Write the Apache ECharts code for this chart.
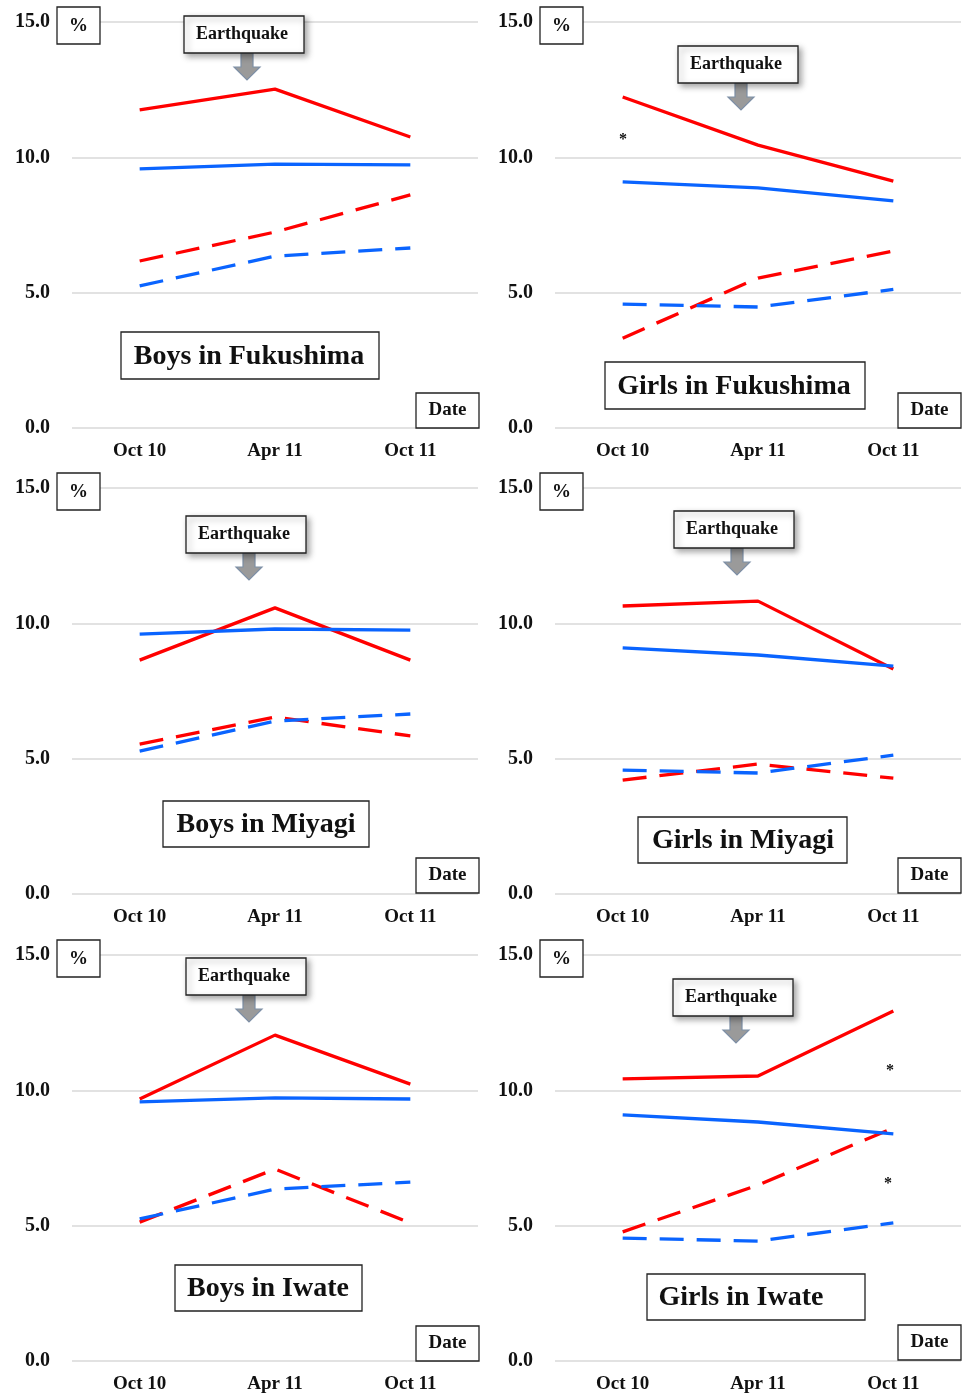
<!DOCTYPE html>
<html><head><meta charset="utf-8">
<script src="https://cdn.jsdelivr.net/npm/echarts@6/dist/echarts.min.js"></script>
<style>html,body{margin:0;padding:0;background:#fff}#c{width:968px;height:1394px}</style>
</head><body><div id="c"></div>
<script>
var categories = ['Oct 10', 'Apr 11', 'Oct 11'];
var yTicks = [0, 5, 10, 15];
var panelTitles = ['Boys in Fukushima', 'Girls in Fukushima', 'Boys in Miyagi', 'Girls in Miyagi', 'Boys in Iwate', 'Girls in Iwate'];

// series per panel: red solid, blue solid, red dashed, blue dashed
var boysFukushimaRedSolid = [11.75, 12.52, 10.75];
var boysFukushimaBlueSolid = [9.57, 9.75, 9.72];
var boysFukushimaRedDashed = [6.17, 7.24, 8.61];
var boysFukushimaBlueDashed = [5.25, 6.35, 6.65];

var girlsFukushimaRedSolid = [12.23, 10.45, 9.12];
var girlsFukushimaBlueSolid = [9.09, 8.87, 8.39];
var girlsFukushimaRedDashed = [3.32, 5.54, 6.54];
var girlsFukushimaBlueDashed = [4.58, 4.47, 5.12];

var boysMiyagiRedSolid = [8.64, 10.57, 8.64];
var boysMiyagiBlueSolid = [9.6, 9.79, 9.75];
var boysMiyagiRedDashed = [5.54, 6.54, 5.84];
var boysMiyagiBlueDashed = [5.28, 6.39, 6.65];

var girlsMiyagiRedSolid = [10.64, 10.82, 8.31];
var girlsMiyagiBlueSolid = [9.09, 8.83, 8.42];
var girlsMiyagiRedDashed = [4.21, 4.8, 4.28];
var girlsMiyagiBlueDashed = [4.58, 4.47, 5.13];

var boysIwateRedSolid = [9.68, 12.04, 10.23];
var boysIwateBlueSolid = [9.57, 9.72, 9.68];
var boysIwateRedDashed = [5.13, 7.09, 5.1];
var boysIwateBlueDashed = [5.25, 6.35, 6.61];

var girlsIwateRedSolid = [10.42, 10.53, 12.93];
var girlsIwateBlueSolid = [9.09, 8.83, 8.39];
var girlsIwateRedDashed = [4.77, 6.5, 8.61];
var girlsIwateBlueDashed = [4.54, 4.43, 5.1];

var panelData = [
  [boysFukushimaRedSolid, boysFukushimaBlueSolid, boysFukushimaRedDashed, boysFukushimaBlueDashed],
  [girlsFukushimaRedSolid, girlsFukushimaBlueSolid, girlsFukushimaRedDashed, girlsFukushimaBlueDashed],
  [boysMiyagiRedSolid, boysMiyagiBlueSolid, boysMiyagiRedDashed, boysMiyagiBlueDashed],
  [girlsMiyagiRedSolid, girlsMiyagiBlueSolid, girlsMiyagiRedDashed, girlsMiyagiBlueDashed],
  [boysIwateRedSolid, boysIwateBlueSolid, boysIwateRedDashed, boysIwateBlueDashed],
  [girlsIwateRedSolid, girlsIwateBlueSolid, girlsIwateRedDashed, girlsIwateBlueDashed]
];

var FONT = '"Liberation Serif", "Times New Roman", serif';
var RED = '#ff0000', BLUE = '#0a64ff';
var lefts = [72, 555];
var tops = [22, 488, 955];
var GW = 406, GH = 406;

// layout of annotation boxes per panel (pixels): x, y, w, h, text centre x
var quakeBox = [[184, 16], [678, 46], [186, 516], [674, 511], [186, 958], [673, 979]];
var titleBox = [[121, 332, 258, 47, 249], [605, 362, 260, 47, 734], [163, 801, 206, 46, 266], [638, 817, 209, 46, 743], [175, 1265, 187, 46, 268], [647, 1274, 218, 46, 741]];
var dateBox = [[416, 393], [898, 393], [416, 858], [898, 858], [416, 1326], [898, 1325]];
var stars = [[623, 137], [890, 1068], [888, 1181]];

var grids = [], xAxes = [], yAxes = [], series = [], graphics = [];
for (var i = 0; i < 6; i++) {
  var col = i % 2, row = Math.floor(i / 2);
  grids.push({ left: lefts[col], top: tops[row], width: GW, height: GH, containLabel: false });
  xAxes.push({
    type: 'category', gridIndex: i, data: categories, boundaryGap: true,
    axisLine: { show: false }, axisTick: { show: false },
    axisLabel: { fontFamily: FONT, fontWeight: 'bold', fontSize: 19, color: '#111', margin: 14 }
  });
  yAxes.push({
    type: 'value', gridIndex: i, min: yTicks[0], max: yTicks[yTicks.length - 1], interval: 5,
    axisLine: { show: false }, axisTick: { show: false },
    splitLine: { lineStyle: { color: '#d9d9d9', width: 1.5 } },
    axisLabel: { fontFamily: FONT, fontWeight: 'bold', fontSize: 20, color: '#111', margin: 22,
      padding: [3, 0, 0, 0],
      formatter: function (v) { return v.toFixed(1); } }
  });
  var styles = [
    { color: RED, type: 'solid' }, { color: BLUE, type: 'solid' },
    { color: RED, type: [24, 13] }, { color: BLUE, type: [24, 13] }
  ];
  for (var s = 0; s < 4; s++) {
    series.push({
      type: 'line', xAxisIndex: i, yAxisIndex: i, data: panelData[i][s],
      symbol: 'none', smooth: false, z: s < 2 ? 3 : 2,
      lineStyle: { color: styles[s].color, width: 3.3, type: styles[s].type },
      silent: true
    });
  }
  // % box
  var px = lefts[col] - 15, py = tops[row] - 15;
  graphics.push({ type: 'rect', shape: { x: px, y: py, width: 43, height: 37 },
    style: { fill: '#fff', stroke: '#222', lineWidth: 1.3 }, z: 10 });
  graphics.push({ type: 'text', x: px + 21.5, y: py + 19,
    style: { text: '%', font: 'bold 19px ' + FONT, fill: '#111', align: 'center', verticalAlign: 'middle' }, z: 11 });
  // Earthquake box + arrow
  var qx = quakeBox[i][0], qy = quakeBox[i][1];
  var ax = qx + 63;
  graphics.push({ type: 'polygon',
    shape: { points: [[ax - 6, qy + 37], [ax + 6, qy + 37], [ax + 6, qy + 51], [ax + 13, qy + 51], [ax, qy + 64], [ax - 13, qy + 51], [ax - 6, qy + 51]] },
    style: { fill: '#9a9a9a', stroke: '#7d8fa6', lineWidth: 1.2 }, z: 9 });
  graphics.push({ type: 'rect', shape: { x: qx, y: qy, width: 120, height: 37 },
    style: { fill: '#fff', stroke: '#222', lineWidth: 1.3, shadowBlur: 6, shadowColor: 'rgba(0,0,0,0.35)', shadowOffsetX: 3, shadowOffsetY: 3 }, z: 10 });
  graphics.push({ type: 'text', x: qx + 58, y: qy + 18.5,
    style: { text: 'Earthquake', font: 'bold 18px ' + FONT, fill: '#111', align: 'center', verticalAlign: 'middle' }, z: 11 });
  // title box
  var tb = titleBox[i];
  graphics.push({ type: 'rect', shape: { x: tb[0], y: tb[1], width: tb[2], height: tb[3] },
    style: { fill: '#fff', stroke: '#222', lineWidth: 1.3 }, z: 10 });
  graphics.push({ type: 'text', x: tb[4], y: tb[1] + tb[3] / 2 + 1,
    style: { text: panelTitles[i], font: 'bold 28px ' + FONT, fill: '#111', align: 'center', verticalAlign: 'middle' }, z: 11 });
  // Date box
  var db = dateBox[i];
  graphics.push({ type: 'rect', shape: { x: db[0], y: db[1], width: 63, height: 35 },
    style: { fill: '#fff', stroke: '#222', lineWidth: 1.3 }, z: 10 });
  graphics.push({ type: 'text', x: db[0] + 31.5, y: db[1] + 17.5,
    style: { text: 'Date', font: 'bold 19px ' + FONT, fill: '#111', align: 'center', verticalAlign: 'middle' }, z: 11 });
}
stars.forEach(function (p) {
  graphics.push({ type: 'text', x: p[0], y: p[1] + 3,
    style: { text: '*', font: 'bold 16px ' + FONT, fill: '#111', align: 'center', verticalAlign: 'middle' }, z: 11 });
});

var chart = echarts.init(document.getElementById('c'), null, { renderer: 'canvas' });
chart.setOption({
  animation: false,
  backgroundColor: '#fff',
  grid: grids, xAxis: xAxes, yAxis: yAxes, series: series,
  graphic: graphics
});
</script></body></html>
